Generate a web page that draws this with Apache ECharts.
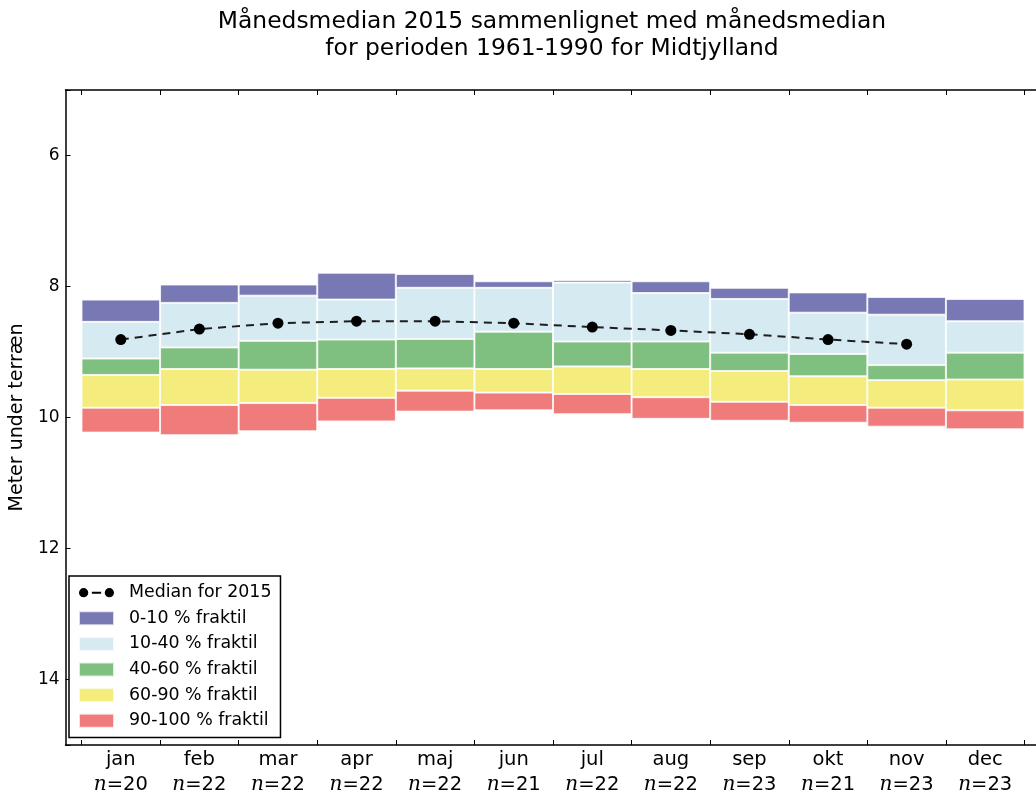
<!DOCTYPE html>
<html>
<head>
<meta charset="utf-8">
<script src="https://cdn.jsdelivr.net/npm/echarts@6/dist/echarts.min.js"></script>
<style>
  html, body { margin: 0; padding: 0; background: #fff; }
  #chart { width: 1036px; height: 796px; }
</style>
</head>
<body>
<div id="chart"></div>
<script>
// Months and number of years in each monthly sample
const months = ['jan', 'feb', 'mar', 'apr', 'maj', 'jun', 'jul', 'aug', 'sep', 'okt', 'nov', 'dec'];
const counts = [20, 22, 22, 22, 22, 21, 22, 22, 23, 21, 23, 23];
const yTicks = [6, 8, 10, 12, 14];

// Quantile boundaries of the 1961-1990 monthly medians (meter under terrain)
const q0   = [8.20, 7.97, 7.97, 7.79, 7.81, 7.92, 7.90, 7.92, 8.02, 8.09, 8.16, 8.19];
const q10  = [8.54, 8.25, 8.14, 8.20, 8.02, 8.02, 7.94, 8.10, 8.19, 8.40, 8.43, 8.53];
const q40  = [9.10, 8.93, 8.83, 8.81, 8.80, 8.69, 8.84, 8.84, 9.01, 9.03, 9.20, 9.01];
const q60  = [9.35, 9.26, 9.27, 9.26, 9.25, 9.26, 9.22, 9.26, 9.29, 9.37, 9.43, 9.42];
const q90  = [9.85, 9.81, 9.78, 9.70, 9.59, 9.62, 9.64, 9.69, 9.76, 9.81, 9.85, 9.89];
const q100 = [10.23, 10.27, 10.21, 10.06, 9.91, 9.89, 9.95, 10.02, 10.05, 10.08, 10.14, 10.18];

// Monthly median for 2015 (no value for December)
const median2015 = [8.81, 8.65, 8.56, 8.53, 8.53, 8.56, 8.62, 8.67, 8.73, 8.81, 8.88, null];

const bandNames = ['0-10 % fraktil', '10-40 % fraktil', '40-60 % fraktil', '60-90 % fraktil', '90-100 % fraktil'];
const bandColors = ['#7878b4', '#d6eaf1', '#7fbf7f', '#f4ec7c', '#ef7b7b'];
const bounds = [q0, q10, q40, q60, q90, q100];

const FONT = 'DejaVu Sans';
const frameLine = { show: true, onZero: false, lineStyle: { color: '#000', width: 1.5 } };
const tickStyle = { show: true, inside: true, length: 5, interval: 0, lineStyle: { color: '#000', width: 1 } };

// Stacked bars: an invisible base up to the 0 % level, then one segment per band
const bandSeries = bandNames.map((name, b) => ({
  name: name,
  type: 'bar',
  stack: 'q',
  xAxisIndex: 2,
  yAxisIndex: 1,
  barWidth: '100%',
  barCategoryGap: 0,
  itemStyle: { color: bandColors[b], borderColor: 'rgba(255,255,255,0.75)', borderWidth: 1 },
  emphasis: { disabled: true },
  data: bounds[b + 1].map((v, i) => +(v - bounds[b][i]).toFixed(4))
}));

const medianIcon = 'path://M0.5,4.5 A4.5,4.5 0 1,1 9.5,4.5 A4.5,4.5 0 1,1 0.5,4.5 Z ' +
  'M13,3.5 L22,3.5 L22,5.5 L13,5.5 Z ' +
  'M25.5,4.5 A4.5,4.5 0 1,1 34.5,4.5 A4.5,4.5 0 1,1 25.5,4.5 Z';

const option = {
  backgroundColor: '#fff',
  animation: false,
  title: {
    text: 'Månedsmedian 2015 sammenlignet med månedsmedian\nfor perioden 1961-1990 for Midtjylland',
    left: 547,
    top: 3,
    textAlign: 'center',
    textStyle: { fontFamily: FONT, fontSize: 23.4, fontWeight: 'normal', color: '#000', lineHeight: 27 }
  },
  legend: {
    orient: 'vertical',
    left: 69,
    top: 576,
    padding: [8, 9, 8, 9],
    itemGap: 8.2,
    itemWidth: 35,
    itemHeight: 14,
    icon: 'rect',
    backgroundColor: '#fff',
    borderColor: '#000',
    borderWidth: 1.5,
    borderRadius: 0,
    textStyle: { fontFamily: FONT, fontSize: 17.4, color: '#000', lineHeight: 17.4, padding: [0, 0, 0, 10] },
    data: [{ name: 'Median for 2015', icon: medianIcon }].concat(bandNames)
  },
  grid: [
    // plot frame (left, top and bottom edges; the right edge lies beyond the page)
    { left: 63, top: 90, right: 0, bottom: 51 },
    // area spanned by the twelve month bars
    { left: 81.5, width: 943, top: 90, bottom: 51 }
  ],
  xAxis: [
    {
      gridIndex: 0, type: 'value', min: 0, max: 1, position: 'bottom',
      axisLine: frameLine, axisTick: { show: false }, axisLabel: { show: false }, splitLine: { show: false }
    },
    {
      gridIndex: 0, type: 'value', min: 0, max: 1, position: 'top',
      axisLine: frameLine, axisTick: { show: false }, axisLabel: { show: false }, splitLine: { show: false }
    },
    {
      gridIndex: 1, type: 'category', data: months, boundaryGap: true, position: 'bottom',
      axisLine: { show: false },
      axisTick: tickStyle,
      axisLabel: {
        interval: 0,
        margin: 2,
        formatter: (v, i) => '{m|' + v + '}\n{n|n}{e|=' + counts[i] + '}',
        rich: {
          m: { fontFamily: FONT, fontSize: 19.5, color: '#000', lineHeight: 25 },
          n: { fontFamily: 'DejaVu Serif', fontStyle: 'italic', fontSize: 20, color: '#000', lineHeight: 25 },
          e: { fontFamily: FONT, fontSize: 19.5, color: '#000', lineHeight: 25 }
        }
      }
    },
    {
      gridIndex: 1, type: 'category', data: months, boundaryGap: true, position: 'top',
      axisLine: { show: false },
      axisTick: tickStyle,
      axisLabel: { show: false }
    }
  ],
  yAxis: [
    {
      gridIndex: 0, type: 'value', inverse: true, min: 5, max: 15, position: 'left',
      name: 'Meter under terræn', nameLocation: 'middle', nameRotate: 90, nameGap: 34,
      nameTextStyle: { fontFamily: FONT, fontSize: 19, color: '#000' },
      axisLine: frameLine,
      axisTick: { show: true, inside: true, length: 5, lineStyle: { color: '#000', width: 1 } },
      axisLabel: {
        margin: 6, fontFamily: FONT, fontSize: 17, color: '#000',
        formatter: v => (yTicks.indexOf(v) >= 0 ? String(v) : '')
      },
      splitLine: { show: false }
    },
    { gridIndex: 1, type: 'value', inverse: true, min: 5, max: 15, show: false }
  ],
  series: [
    {
      name: 'base', type: 'bar', stack: 'q', xAxisIndex: 2, yAxisIndex: 1,
      barWidth: '100%', barCategoryGap: 0, silent: true,
      itemStyle: { color: 'rgba(0,0,0,0)' },
      data: q0
    }
  ].concat(bandSeries, [
    {
      name: 'Median for 2015', type: 'line', xAxisIndex: 2, yAxisIndex: 1,
      data: median2015, connectNulls: false,
      symbol: 'circle', symbolSize: 11, z: 5,
      itemStyle: { color: '#000' },
      lineStyle: { color: '#1e1e1e', width: 2, type: [8, 6] },
      emphasis: { disabled: true }
    }
  ])
};

const chart = echarts.init(document.getElementById('chart'), null, { renderer: 'canvas' });
chart.setOption(option);
</script>
</body>
</html>
